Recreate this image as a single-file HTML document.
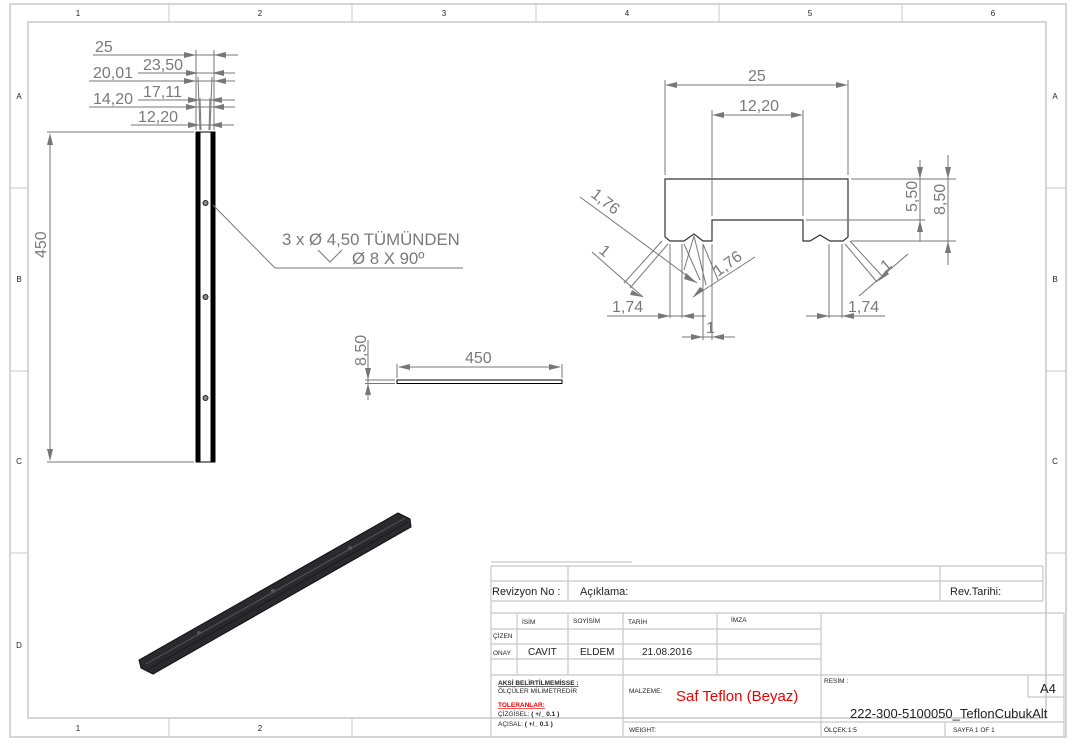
<!DOCTYPE html>
<html><head><meta charset="utf-8"><style>
html,body{margin:0;padding:0;background:#fff;}
svg{display:block;font-family:"Liberation Sans",sans-serif;}
</style></head><body>
<svg width="1077" height="748" viewBox="0 0 1077 748" xmlns="http://www.w3.org/2000/svg">
<rect x="0" y="0" width="1077" height="748" fill="#fff"/>
<!-- frame -->
<g fill="none" stroke="#c8c8c8" stroke-width="1.5">
<rect x="10" y="4" width="1056" height="733"/>
<rect x="28" y="22" width="1018" height="696"/>
</g>
<g stroke="#c8c8c8" stroke-width="1">
<line x1="169" y1="4" x2="169" y2="22"/><line x1="352" y1="4" x2="352" y2="22"/><line x1="536" y1="4" x2="536" y2="22"/><line x1="719" y1="4" x2="719" y2="22"/><line x1="902" y1="4" x2="902" y2="22"/>
<line x1="169" y1="718" x2="169" y2="737"/><line x1="352" y1="718" x2="352" y2="737"/>
<line x1="10" y1="188" x2="28" y2="188"/><line x1="10" y1="371" x2="28" y2="371"/><line x1="10" y1="553" x2="28" y2="553"/>
<line x1="1046" y1="188" x2="1066" y2="188"/><line x1="1046" y1="371" x2="1066" y2="371"/><line x1="1046" y1="553" x2="1066" y2="553"/>
</g>
<g font-size="8" fill="#222" text-anchor="middle">
<text x="78" y="16">1</text><text x="260" y="16">2</text><text x="444" y="16">3</text><text x="627" y="16">4</text><text x="810" y="16">5</text><text x="993" y="16">6</text>
<text x="78" y="731">1</text><text x="260" y="731">2</text>
<text x="19" y="99">A</text><text x="19" y="282">B</text><text x="19" y="464">C</text><text x="19" y="648">D</text>
<text x="1055" y="99">A</text><text x="1055" y="282">B</text><text x="1055" y="464">C</text>
</g>

<!-- left bar view -->
<rect x="196" y="132" width="19" height="330" fill="none" stroke="#000" stroke-width="1"/>
<rect x="196" y="132" width="4.5" height="330" fill="#000"/>
<rect x="210.5" y="132" width="4.5" height="330" fill="#000"/>
<g fill="#888" stroke="#222" stroke-width="1"><circle cx="205.5" cy="203" r="2.5"/><circle cx="205.5" cy="297" r="2.5"/><circle cx="205.5" cy="398" r="2.5"/></g>
<g stroke="#777" stroke-width="1" fill="none">
<line x1="47" y1="132" x2="194" y2="132"/><line x1="47" y1="462" x2="194" y2="462"/>
<line x1="50" y1="135" x2="50" y2="460"/>
<line x1="93" y1="55" x2="238" y2="55"/>
<line x1="138" y1="73" x2="235" y2="73"/>
<line x1="89" y1="81" x2="235" y2="81"/>
<line x1="138" y1="100" x2="235" y2="100"/>
<line x1="89" y1="107" x2="235" y2="107"/>
<line x1="131" y1="125" x2="234" y2="125"/>
<line x1="196" y1="50" x2="196" y2="130"/><line x1="214" y1="50" x2="214" y2="130"/>
<line x1="198" y1="77" x2="200" y2="130"/><line x1="212" y1="77" x2="210" y2="130"/>
<line x1="200" y1="98" x2="201" y2="130"/><line x1="210" y1="98" x2="209" y2="130"/>
<polyline points="213,205 275,268 463,268"/>
<polyline points="318,250 330,262 342,250"/>
</g>
<g fill="#777">
<polygon points="50,133 47,145 53,145"/><polygon points="50,461 47,449 53,449"/>
<polygon points="196,55 184,52 184,58"/><polygon points="214,55 226,52 226,58"/>
<polygon points="198,73 186,70 186,76"/><polygon points="212,73 224,70 224,76"/>
<polygon points="196,81 184,78 184,84"/><polygon points="214,81 226,78 226,84"/>
<polygon points="200,100 188,97 188,103"/><polygon points="210,100 222,97 222,103"/>
<polygon points="198,107 186,104 186,110"/><polygon points="212,107 224,104 224,110"/>
<polygon points="200,125 188,122 188,128"/><polygon points="210,125 222,122 222,128"/>
</g>
<g fill="#7a7a7a" font-size="16">
<text x="95" y="52">25</text>
<text x="143" y="70">23,50</text>
<text x="93" y="78">20,01</text>
<text x="143" y="97">17,11</text>
<text x="93" y="104">14,20</text>
<text x="138" y="122">12,20</text>
<text transform="translate(46,258) rotate(-90)">450</text>
<text x="282" y="245" font-size="16.8">3 x Ø 4,50 TÜMÜNDEN</text>
<text x="352" y="264" font-size="16.8">Ø 8 X 90º</text>
</g>

<!-- middle view -->
<rect x="397" y="380" width="165" height="3.5" fill="none" stroke="#000" stroke-width="1"/>
<g stroke="#777" stroke-width="1">
<line x1="397" y1="364" x2="397" y2="378"/><line x1="562" y1="364" x2="562" y2="378"/>
<line x1="399" y1="367" x2="560" y2="367"/>
<line x1="365" y1="380" x2="395" y2="380"/><line x1="365" y1="383.5" x2="395" y2="383.5"/>
<line x1="368" y1="340" x2="368" y2="400"/>
</g>
<g fill="#777"><polygon points="398,367 410,364 410,370"/><polygon points="561,367 549,364 549,370"/>
<polygon points="368,380 365,368 371,368"/><polygon points="368,383.5 365,395 371,395"/></g>
<g fill="#7a7a7a" font-size="16"><text x="465" y="363">450</text><text transform="translate(366,366) rotate(-90)">8,50</text></g>

<!-- profile view -->
<path d="M665,179 H848 V237 L843,241 H830 L820,235 L810,241 H803 V220 H712 V241 H703 L694,234 L684,241 H670 L665,237 Z" fill="none" stroke="#333" stroke-width="1.2"/>
<g stroke="#777" stroke-width="1" fill="none">
<line x1="665" y1="80" x2="665" y2="175"/><line x1="848" y1="80" x2="848" y2="175"/>
<line x1="667" y1="85" x2="846" y2="85"/>
<line x1="712" y1="110" x2="712" y2="216"/><line x1="803" y1="110" x2="803" y2="216"/>
<line x1="714" y1="115" x2="801" y2="115"/>
<line x1="851" y1="179" x2="956" y2="179"/><line x1="851" y1="241" x2="956" y2="241"/><line x1="806" y1="220" x2="925" y2="220"/>
<line x1="920" y1="160" x2="920" y2="242"/><line x1="948" y1="155" x2="948" y2="265"/>
<line x1="670" y1="244" x2="670" y2="318"/><line x1="682" y1="244" x2="682" y2="318"/><line x1="703" y1="244" x2="703" y2="340"/><line x1="712" y1="244" x2="712" y2="340"/>
<line x1="607" y1="316" x2="706" y2="316"/>
<line x1="682" y1="337" x2="735" y2="337"/>
<line x1="580" y1="197" x2="697" y2="283"/>
<line x1="592" y1="252" x2="643" y2="297"/>
<line x1="693" y1="297" x2="755" y2="257"/>
<line x1="662" y1="241" x2="624" y2="283"/><line x1="668" y1="244" x2="630" y2="288"/>
<line x1="684" y1="244" x2="700" y2="280"/><line x1="694" y1="236" x2="684" y2="270"/><line x1="694" y1="236" x2="706" y2="285"/><line x1="703" y1="244" x2="718" y2="280"/>
<line x1="829" y1="244" x2="829" y2="318"/><line x1="842" y1="244" x2="842" y2="318"/>
<line x1="806" y1="316" x2="885" y2="316"/>
<line x1="859" y1="296" x2="908" y2="254"/>
<line x1="845" y1="244" x2="877" y2="282"/><line x1="850" y1="241" x2="883" y2="277"/>
</g>
<g fill="#777">
<polygon points="665,85 677,82 677,88"/><polygon points="848,85 836,82 836,88"/>
<polygon points="712,115 724,112 724,118"/><polygon points="803,115 791,112 791,118"/>
<polygon points="920,179 917,167 923,167"/><polygon points="920,220 917,232 923,232"/>
<polygon points="948,179 945,167 951,167"/><polygon points="948,241 945,253 951,253"/>
<polygon points="670,316 658,313 658,319"/><polygon points="682,316 694,313 694,319"/>
<polygon points="703,337 691,334 691,340"/><polygon points="712,337 724,334 724,340"/>
<polygon points="829,316 817,313 817,319"/><polygon points="842,316 854,313 854,319"/>
<polygon points="697,283 686,273 684,279"/><polygon points="643,297 632,290 630,295"/>
<polygon points="693,297 704,290 700,287"/><polygon points="877,282 889,274 886,270"/>
</g>
<g fill="#7a7a7a" font-size="16">
<text x="748" y="81">25</text>
<text x="739" y="111">12,20</text>
<text transform="translate(917,212) rotate(-90)">5,50</text>
<text transform="translate(945,215) rotate(-90)">8,50</text>
<text transform="translate(590,196) rotate(38)">1,76</text>
<text transform="translate(598,252) rotate(40)">1</text>
<text x="612" y="312">1,74</text>
<text transform="translate(718,277) rotate(-36)">1,76</text>
<text x="706" y="333">1</text>
<text x="848" y="312">1,74</text>
<text transform="translate(886,272) rotate(-40)">1</text>
</g>

<!-- isometric bar -->
<polygon points="139,660 398,513 410,519 411,527 153,674 141,668" fill="#2a2a2e" stroke="#111" stroke-width="1"/>
<line x1="146" y1="664" x2="405" y2="518" stroke="#55565c" stroke-width="1"/>
<line x1="150" y1="668" x2="408" y2="522" stroke="#1a1a1a" stroke-width="1"/>
<g fill="#55565c"><circle cx="199" cy="633" r="2"/><circle cx="273" cy="591" r="2"/><circle cx="350" cy="548" r="2"/></g>

<!-- title block -->
<g stroke="#c8c8c8" stroke-width="1.2" fill="none">
<line x1="491" y1="562" x2="632" y2="562"/>
<line x1="491" y1="566" x2="1043" y2="566"/>
<line x1="491" y1="581" x2="1043" y2="581"/>
<line x1="491" y1="601" x2="1043" y2="601"/>
<line x1="568" y1="566" x2="568" y2="601"/><line x1="940" y1="566" x2="940" y2="601"/><line x1="1043" y1="566" x2="1043" y2="601"/>
<line x1="491" y1="566" x2="491" y2="737"/>
<line x1="491" y1="613" x2="1064" y2="613"/>
<line x1="1064" y1="613" x2="1064" y2="737"/>
<line x1="491" y1="629" x2="821" y2="629"/>
<line x1="491" y1="644" x2="821" y2="644"/>
<line x1="491" y1="659" x2="821" y2="659"/>
<line x1="491" y1="675" x2="1064" y2="675"/>
<line x1="623" y1="722" x2="1064" y2="722"/>
<line x1="517" y1="613" x2="517" y2="675"/><line x1="568" y1="613" x2="568" y2="675"/>
<line x1="623" y1="613" x2="623" y2="737"/><line x1="717" y1="613" x2="717" y2="675"/>
<line x1="821" y1="613" x2="821" y2="737"/><line x1="945" y1="722" x2="945" y2="737"/>
<line x1="1028" y1="675" x2="1028" y2="697"/><line x1="1028" y1="697" x2="1064" y2="697"/>
</g>
<g fill="#222">
<text x="492" y="595" font-size="11">Revizyon No :</text>
<text x="580" y="595" font-size="11">Açıklama:</text>
<text x="950" y="595" font-size="11">Rev.Tarihi:</text>
<g font-size="6.5"><text x="522" y="624">İSİM</text><text x="573" y="623">SOYİSİM</text><text x="628" y="624">TARİH</text><text x="731" y="622">İMZA</text>
<text x="493" y="638">ÇİZEN</text><text x="493" y="655">ONAY</text>
<text x="629" y="693">MALZEME:</text><text x="629" y="732">WEIGHT:</text><text x="824" y="683">RESİM :</text>
<text x="824" y="732">ÖLÇEK:1:5</text><text x="953" y="732">SAYFA 1 OF 1</text>
<text x="498" y="685" font-weight="bold" text-decoration="underline">AKSİ BELİRTİLMEMİSSE :</text>
<text x="498" y="693">ÖLÇÜLER MİLİMETREDİR</text>
<text x="498" y="707" font-weight="bold" fill="#e00" text-decoration="underline">TOLERANLAR:</text>
<text x="498" y="716">ÇİZGİSEL: <tspan font-weight="bold">( +/_ 0.1 )</tspan></text>
<text x="498" y="726">AÇISAL: <tspan font-weight="bold">( +/_ 0.1 )</tspan></text></g>
<text x="528" y="655" font-size="10">CAVIT</text><text x="580" y="655" font-size="10">ELDEM</text><text x="642" y="655" font-size="10">21.08.2016</text>
<text x="676" y="701" font-size="15" fill="#e00">Saf Teflon (Beyaz)</text>
<text x="1040" y="693" font-size="13">A4</text>
<text x="850" y="718" font-size="13">222-300-5100050_TeflonCubukAlt</text>
</g>
</svg>
</body></html>
